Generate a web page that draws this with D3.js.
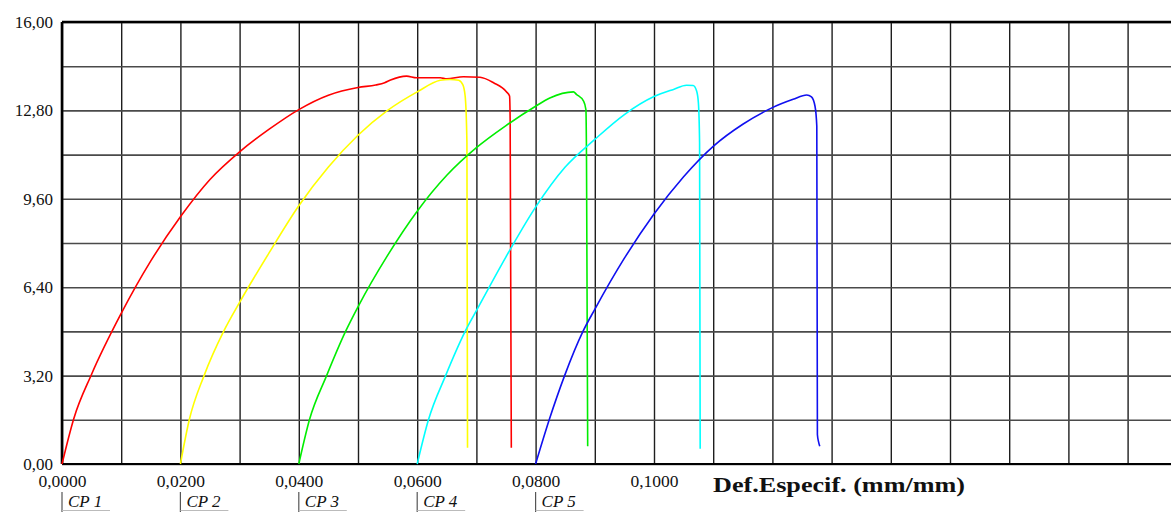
<!DOCTYPE html>
<html>
<head>
<meta charset="utf-8">
<script src="https://cdn.jsdelivr.net/npm/d3@7"></script>
<style>
  body { margin: 0; background: #fff; }
  svg { display: block; }
  text { font-family: "Liberation Serif", "Times New Roman", serif; fill: #111; }
</style>
</head>
<body>
<script>
// specimen names and the strain offset each curve starts at
var specimens = ["CP 1", "CP 2", "CP 3", "CP 4", "CP 5"];
var offsets = [0, 0.02, 0.04, 0.06, 0.08];
var colors = ["#ff0000", "#ffff00", "#00ee00", "#00ffff", "#1010f0"];

// strain (mm/mm) and stress, per specimen
var cp1Strain = [0, 0.0020, 0.0050, 0.0100, 0.0150, 0.0200, 0.0250, 0.0300, 0.0350, 0.0400, 0.0450, 0.0500, 0.0530, 0.0545, 0.0555, 0.0582, 0.0599, 0.0639, 0.0650, 0.0678, 0.0706, 0.0729, 0.0751, 0.0756, 0.0757, 0.0759];
var cp1Stress = [0, 1.65, 3.25, 5.45, 7.35, 8.95, 10.30, 11.30, 12.12, 12.83, 13.35, 13.63, 13.72, 13.80, 13.90, 14.04, 13.98, 13.98, 13.94, 14.02, 14.00, 13.80, 13.47, 13.32, 12.47, 0.59];

var cp2Strain = [0.0200, 0.0215, 0.0240, 0.0273, 0.0300, 0.0350, 0.0400, 0.0450, 0.0500, 0.0550, 0.0600, 0.0639, 0.0655, 0.0670, 0.0677, 0.0681, 0.0684, 0.0685];
var cp2Stress = [0, 1.60, 3.20, 4.80, 5.85, 7.65, 9.35, 10.75, 11.90, 12.80, 13.47, 13.89, 13.92, 13.89, 13.73, 13.32, 11.63, 0.59];

var cp3Strain = [0.0400, 0.0418, 0.0447, 0.0479, 0.0500, 0.0550, 0.0600, 0.0650, 0.0700, 0.0750, 0.0800, 0.0824, 0.0864, 0.0869, 0.0881, 0.0885, 0.0886, 0.0888];
var cp3Stress = [0, 1.60, 3.20, 4.80, 5.69, 7.55, 9.15, 10.45, 11.45, 12.25, 12.95, 13.25, 13.47, 13.38, 13.14, 12.83, 11.02, 0.64];

var cp4Strain = [0.0600, 0.0619, 0.0648, 0.0681, 0.0700, 0.0750, 0.0800, 0.0850, 0.0900, 0.0950, 0.1000, 0.1033, 0.1055, 0.1066, 0.1072, 0.1075, 0.1077, 0.1078];
var cp4Stress = [0, 1.60, 3.20, 4.80, 5.55, 7.50, 9.30, 10.75, 11.75, 12.65, 13.30, 13.56, 13.71, 13.70, 13.50, 13.07, 11.63, 0.55];

var cp5Strain = [0.0800, 0.0823, 0.0849, 0.0880, 0.0900, 0.0950, 0.1000, 0.1050, 0.1100, 0.1150, 0.1200, 0.1235, 0.1258, 0.1266, 0.1272, 0.1275, 0.1276, 0.1278, 0.1280];
var cp5Stress = [0, 1.60, 3.20, 4.80, 5.60, 7.45, 9.05, 10.40, 11.50, 12.30, 12.90, 13.20, 13.36, 13.29, 12.95, 12.23, 1.07, 0.80, 0.64];

// axis ticks
var xGridTicks = d3.range(0, 0.1801, 0.01);
var xLabelTicks = [0, 0.02, 0.04, 0.06, 0.08, 0.1];
var yGridTicks = d3.range(0, 16.01, 1.6);
var yLabelTicks = [0, 3.2, 6.4, 9.6, 12.8, 16];
var xTitle = "Def.Especif. (mm/mm)";

var width = 1171, height = 512;
var plotLeft = 62, plotTop = 22, plotBottom = 464;

var svg = d3.select("body").append("svg")
    .attr("width", width)
    .attr("height", height);

// 0.01 strain is about 59.2 px; the plot runs off the right edge
var x = d3.scaleLinear().domain([0, (width - plotLeft) / 5920]).range([plotLeft, width]);
var y = d3.scaleLinear().domain([0, 16]).range([plotBottom, plotTop]);

var ptBR = d3.formatLocale({decimal: ",", thousands: ".", grouping: [3], currency: ["R$", ""]});

// grid
svg.append("g")
    .attr("transform", "translate(0," + plotBottom + ")")
    .call(d3.axisBottom(x).tickValues(xGridTicks).tickSize(-(plotBottom - plotTop)).tickFormat(""))
    .call(g => g.select(".domain").remove())
    .call(g => g.selectAll("line").attr("stroke", "#1e1e1e").attr("stroke-width", 1.4));

svg.append("g")
    .attr("transform", "translate(" + plotLeft + ",0)")
    .call(d3.axisLeft(y).tickValues(yGridTicks).tickSize(-(width - plotLeft)).tickFormat(""))
    .call(g => g.select(".domain").remove())
    .call(g => g.selectAll("line").attr("stroke", "#4a4a4a").attr("stroke-width", 1.6));

// frame: top, left and bottom
svg.append("line").attr("x1", plotLeft).attr("x2", width).attr("y1", y(16)).attr("y2", y(16))
    .attr("stroke", "#000").attr("stroke-width", 2.4);
svg.append("line").attr("x1", plotLeft).attr("x2", width).attr("y1", y(0)).attr("y2", y(0))
    .attr("stroke", "#000").attr("stroke-width", 2.2);
svg.append("line").attr("x1", plotLeft).attr("x2", plotLeft).attr("y1", y(16)).attr("y2", y(0))
    .attr("stroke", "#000").attr("stroke-width", 2.6);

// curves
var series = [
    [cp1Strain, cp1Stress],
    [cp2Strain, cp2Stress],
    [cp3Strain, cp3Stress],
    [cp4Strain, cp4Stress],
    [cp5Strain, cp5Stress]
];

var line = d3.line()
    .x(d => x(d[0]))
    .y(d => y(d[1]))
    .curve(d3.curveMonotoneX);

series.forEach(function(s, i) {
    var pts = s[0].map((v, j) => [v, s[1][j]]);
    svg.append("path")
        .datum(pts)
        .attr("fill", "none")
        .attr("stroke", colors[i])
        .attr("stroke-width", 1.6)
        .attr("d", line);
});

// tick labels
svg.append("g")
    .attr("transform", "translate(" + plotLeft + ",0)")
    .call(d3.axisLeft(y).tickValues(yLabelTicks).tickSize(0).tickPadding(9).tickFormat(ptBR.format(".2f")))
    .call(g => g.select(".domain").remove())
    .call(g => g.selectAll("text")
        .style("font-family", "'Liberation Serif', serif")
        .style("font-size", "17px")
        .attr("fill", "#111"));

svg.append("g")
    .attr("transform", "translate(0," + plotBottom + ")")
    .call(d3.axisBottom(x).tickValues(xLabelTicks).tickSize(0).tickPadding(11).tickFormat(ptBR.format(".4f")))
    .call(g => g.select(".domain").remove())
    .call(g => g.selectAll("text")
        .style("font-family", "'Liberation Serif', serif")
        .style("font-size", "17.5px")
        .attr("fill", "#111"));

// axis title
svg.append("text")
    .attr("x", 713)
    .attr("y", 492)
    .attr("textLength", 252)
    .attr("lengthAdjust", "spacingAndGlyphs")
    .style("font-size", "22px")
    .style("font-weight", "bold")
    .text(xTitle);

// specimen labels under the start of each curve
var cp = svg.append("g").selectAll("g")
    .data(specimens)
    .join("g")
    .attr("transform", (d, i) => "translate(" + x(offsets[i]) + ",0)");

cp.append("line")
    .attr("x1", 0).attr("x2", 0).attr("y1", 492).attr("y2", 512)
    .attr("stroke", "#555").attr("stroke-width", 1.2);

cp.append("line")
    .attr("x1", 0).attr("x2", 48).attr("y1", 510.5).attr("y2", 510.5)
    .attr("stroke", "#bbb").attr("stroke-width", 1);

cp.append("text")
    .attr("x", 6)
    .attr("y", 507)
    .style("font-size", "17px")
    .style("font-style", "italic")
    .text(d => d);
</script>
</body>
</html>
